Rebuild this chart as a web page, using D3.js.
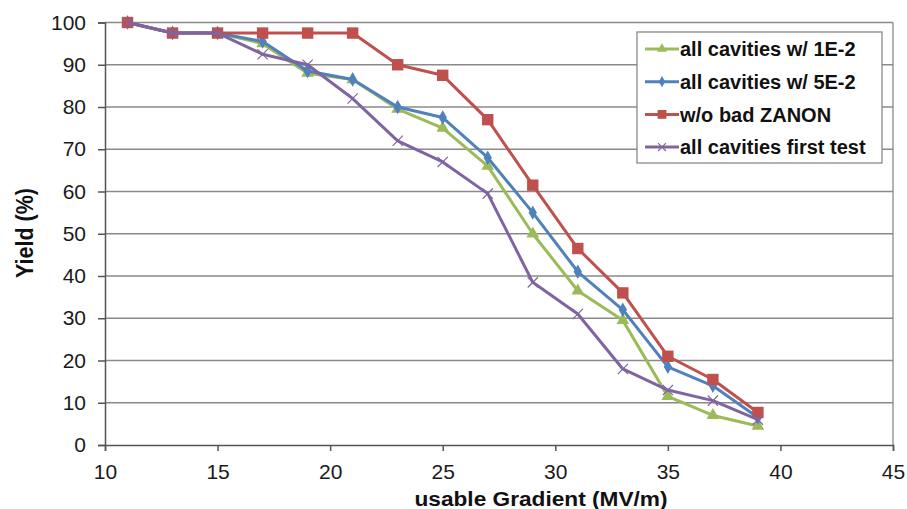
<!DOCTYPE html>
<html lang="en">

<head>
    <meta charset="UTF-8">
    <title>Yield vs usable Gradient</title>
    <style>
        body { margin: 0; background: #fff; }
        svg { display: block; font-family: "Liberation Sans", Arial, sans-serif; }
    </style>
</head>

<body>
    <div id="workspace"></div>

    <script src="https://cdn.jsdelivr.net/npm/d3@7"></script>
    <script>
        // data
        const gradient = [11, 13, 15, 17, 19, 21, 23, 25, 27, 29, 31, 33, 35, 37, 39];
        const yield1E2 = [100, 97.5, 97.5, 95, 88, 86.5, 79.5, 75, 66, 50, 36.5, 29.5, 11.5, 7, 4.5];
        const yield5E2 = [100, 97.5, 97.5, 95.5, 88.5, 86.5, 80, 77.5, 68, 55, 41, 32, 18.5, 14, 6.5];
        const yieldNoZanon = [100, 97.5, 97.5, 97.5, 97.5, 97.5, 90, 87.5, 77, 61.5, 46.5, 36, 21, 15.5, 7.7];
        const yieldFirst = [100, 97.5, 97.5, 92.5, 90, 82, 72, 67, 59.5, 38.5, 31, 18, 13, 10.5, 6];
        const seriesNames = ["all cavities w/ 1E-2", "all cavities w/ 5E-2", "w/o bad  ZANON", "all cavities first test"];
        const xTicks = [10, 15, 20, 25, 30, 35, 40, 45];
        const yTicks = [0, 10, 20, 30, 40, 50, 60, 70, 80, 90, 100];

        const series = [
            { name: seriesNames[0], values: yield1E2, color: "#9BBB59", symbol: d3.symbolTriangle, size: 70 },
            { name: seriesNames[1], values: yield5E2, color: "#4F81BD", symbol: d3.symbolDiamond, size: 60 },
            { name: seriesNames[2], values: yieldNoZanon, color: "#C0504D", symbol: d3.symbolSquare, size: 130 },
            { name: seriesNames[3], values: yieldFirst, color: "#8064A2", symbol: d3.symbolX, size: 70 }
        ];

        const width = 907, height = 509;
        const x = d3.scaleLinear().domain([10, 45]).range([105, 893]);
        const y = d3.scaleLinear().domain([0, 100]).range([445, 22.5]);

        const svg = d3.select("#workspace").append("svg")
            .attr("width", width)
            .attr("height", height);

        // horizontal gridlines
        svg.append("g")
            .selectAll("line")
            .data(yTicks.filter(t => t > 0))
            .enter()
            .append("line")
            .attr("x1", x(10)).attr("x2", x(45))
            .attr("y1", d => y(d)).attr("y2", d => y(d))
            .attr("stroke", "#8a8a8a")
            .attr("stroke-width", 1.3);

        // right border
        svg.append("line")
            .attr("x1", x(45)).attr("x2", x(45))
            .attr("y1", y(100)).attr("y2", y(0))
            .attr("stroke", "#8a8a8a")
            .attr("stroke-width", 1.3);

        const yAxis = svg.append("g")
            .attr("transform", `translate(${x(10)},0)`)
            .call(d3.axisLeft(y).tickValues(yTicks).tickSize(7).tickPadding(12));
        const xAxis = svg.append("g")
            .attr("transform", `translate(0,${y(0)})`)
            .call(d3.axisBottom(x).tickValues(xTicks).tickSize(6).tickPadding(13));

        [yAxis, xAxis].forEach(g => {
            g.select(".domain").attr("stroke", "#555").attr("stroke-width", 1.5);
            g.selectAll(".tick line").attr("stroke", "#555").attr("stroke-width", 1.5);
            g.selectAll(".tick text")
                .attr("fill", "#1a1a1a")
                .style("font-family", "'Liberation Sans', Arial, sans-serif");
        });
        yAxis.selectAll(".tick text").style("font-size", "21px");
        xAxis.selectAll(".tick text").style("font-size", "21px");

        const line = d3.line()
            .x((d, i) => x(gradient[i]))
            .y(d => y(d));

        series.forEach(s => {
            const g = svg.append("g");
            g.append("path")
                .attr("d", line(s.values))
                .attr("fill", "none")
                .attr("stroke", s.color)
                .attr("stroke-width", 3)
                .attr("stroke-linejoin", "round");
            const sym = d3.symbol().type(s.symbol).size(s.size);
            g.selectAll("path.mark")
                .data(s.values)
                .enter()
                .append("path")
                .attr("class", "mark")
                .attr("transform", (d, i) => `translate(${x(gradient[i])},${y(d)})`)
                .attr("d", sym())
                .attr("fill", s.symbol === d3.symbolX ? "none" : s.color)
                .attr("stroke", s.color)
                .attr("stroke-width", s.symbol === d3.symbolX ? 1.2 : 0);
        });

        // legend
        const legend = svg.append("g").attr("transform", "translate(637,32)");
        legend.append("rect")
            .attr("width", 245).attr("height", 131)
            .attr("fill", "#fff")
            .attr("stroke", "#8a8a8a")
            .attr("stroke-width", 1.3);
        const items = legend.selectAll("g.item")
            .data(series)
            .enter()
            .append("g")
            .attr("class", "item")
            .attr("transform", (d, i) => `translate(0,${17 + i * 32.7})`);
        items.append("line")
            .attr("x1", 8).attr("x2", 42)
            .attr("stroke", d => d.color)
            .attr("stroke-width", 3);
        items.append("path")
            .attr("transform", "translate(25,0)")
            .attr("d", d => d3.symbol().type(d.symbol).size(d.size * 0.6)())
            .attr("fill", d => d.symbol === d3.symbolX ? "none" : d.color)
            .attr("stroke", d => d.color)
            .attr("stroke-width", d => d.symbol === d3.symbolX ? 1.2 : 0);
        items.append("text")
            .attr("x", 43)
            .attr("dy", "0.36em")
            .attr("fill", "#111")
            .style("font-size", "20px")
            .style("font-weight", "bold")
            .text(d => d.name);

        // axis titles
        svg.append("text")
            .attr("x", 541)
            .attr("y", 506)
            .attr("text-anchor", "middle")
            .attr("fill", "#111")
            .attr("textLength", 253)
            .attr("lengthAdjust", "spacingAndGlyphs")
            .style("font-size", "20px")
            .style("font-weight", "bold")
            .text("usable Gradient (MV/m)");
        svg.append("text")
            .attr("transform", "translate(33,233) rotate(-90)")
            .attr("text-anchor", "middle")
            .attr("fill", "#111")
            .attr("textLength", 90)
            .attr("lengthAdjust", "spacingAndGlyphs")
            .style("font-size", "23px")
            .style("font-weight", "bold")
            .text("Yield (%)");
    </script>
</body>

</html>
